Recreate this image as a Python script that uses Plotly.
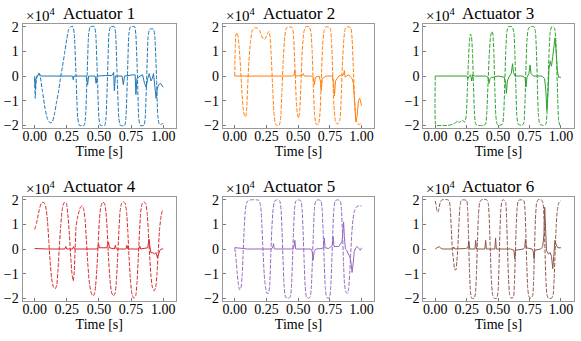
import plotly.graph_objects as go
from plotly.subplots import make_subplots

# values are in units of 1e4
a1_dash_t = [0.000, 0.004, 0.010, 0.020, 0.032, 0.044, 0.060, 0.080, 0.100, 0.120, 0.138, 0.155, 0.172, 0.188, 0.200,
             0.215, 0.232, 0.250, 0.265, 0.280, 0.298, 0.308, 0.322, 0.335, 0.348, 0.385, 0.395, 0.408,
             0.420, 0.432, 0.465, 0.475, 0.488, 0.500, 0.512, 0.545, 0.555, 0.567, 0.578, 0.590, 0.620, 0.630, 0.642,
             0.655, 0.667, 0.700, 0.710, 0.722, 0.733, 0.745, 0.777, 0.787, 0.800, 0.810, 0.822, 0.850, 0.860, 0.872,
             0.883, 0.895, 0.925, 0.935, 0.948, 0.958, 0.970, 0.990, 1.000]
a1_dash_y = [-0.1, -0.9, -0.3, 0.05, 0.12, -0.05, -0.6, -1.3, -1.75, -1.9, -1.85, -1.5, -1.0, -0.55, -0.1,
             0.35, 0.9, 1.5, 1.9, 2.0, 2.0, 1.7, 0.0, -1.7, -2.0, -2.0, -1.7, 0.0,
             1.7, 2.0, 2.0, 1.7, 0.0, -1.7, -2.0, -2.0, -1.7, 0.0, 1.7, 2.0, 2.0, 1.7, 0.0,
             -1.7, -2.0, -2.0, -1.7, 0.0, 1.7, 2.0, 2.0, 1.7, 0.0, -1.7, -2.0, -2.0, -1.7, 0.0,
             1.6, 1.9, 1.9, 1.6, 0.0, -1.6, -1.95, -1.95, -1.9]
a1_solid_t = [0.000, 0.004, 0.010, 0.020, 0.035, 0.050, 0.100, 0.150, 0.200, 0.250, 0.295, 0.300, 0.305, 0.400,
              0.412, 0.420, 0.470, 0.478, 0.486, 0.550, 0.600, 0.615, 0.620, 0.628, 0.680, 0.690, 0.700, 0.770,
              0.782, 0.788, 0.796, 0.820, 0.840, 0.855, 0.868, 0.880, 0.892, 0.905, 0.915, 0.925, 0.935, 0.945,
              0.955, 0.965, 0.980, 1.000]
a1_solid_y = [0.0, -0.5, -0.1, 0.0, 0.1, 0.0, 0.0, -0.02, 0.0, 0.0, 0.0, -0.15, 0.0, 0.0,
              -0.35, 0.0, 0.0, -0.3, 0.0, 0.02, 0.02, 0.15, -0.6, 0.0, 0.0, -0.35, 0.0, 0.05,
              0.05, -0.75, -0.1, 0.0, 0.05, -0.3, -0.45, -0.1, 0.1, -0.2, -0.1, 0.1, -0.3, -0.9,
              -0.5, -0.35, -0.3, -0.45]

a2_dash_t = [0.000, 0.004, 0.010, 0.018, 0.026, 0.036, 0.046, 0.056, 0.066, 0.076, 0.086, 0.094, 0.102, 0.112,
             0.124, 0.138, 0.155, 0.175, 0.195, 0.210, 0.225, 0.240, 0.255, 0.268, 0.278, 0.288, 0.298, 0.308,
             0.318, 0.330, 0.350, 0.362, 0.372, 0.382, 0.394, 0.408, 0.430, 0.455, 0.465, 0.475, 0.485, 0.495,
             0.503, 0.512, 0.522, 0.532, 0.545, 0.560, 0.585, 0.600, 0.610, 0.620, 0.630, 0.642, 0.660, 0.672,
             0.682, 0.692, 0.705, 0.720, 0.752, 0.762, 0.772, 0.782, 0.795, 0.812, 0.828, 0.838, 0.848, 0.860,
             0.873, 0.890, 0.915, 0.925, 0.935, 0.945, 0.955, 0.970, 0.985, 1.000]
a2_dash_y = [0.0, 1.2, 1.7, 1.75, 1.6, 1.1, 0.3, -0.6, -1.3, -1.6, -1.65, -1.3, -0.4, 0.6,
             1.4, 1.85, 1.95, 1.95, 1.85, 1.65, 1.5, 1.5, 1.7, 1.8, 1.6, 0.8, -0.4, -1.4,
             -1.9, -2.0, -2.0, -1.7, -0.6, 0.6, 1.6, 1.95, 2.0, 1.95, 1.5, 0.3, -1.0, -1.6,
             -1.7, -1.4, -0.3, 1.0, 1.8, 2.0, 2.0, 1.8, 1.0, -0.5, -1.6, -1.95, -1.95, -1.5,
             -0.2, 1.2, 1.85, 2.0, 1.95, 1.5, 0.2, -1.2, -1.85, -1.95, -1.8, -1.0, 0.4, 1.5,
             1.95, 2.0, 1.95, 1.5, 0.3, -1.0, -1.75, -1.95, -1.95, -1.9]
a2_solid_t = [0.000, 0.100, 0.200, 0.300, 0.400, 0.450, 0.468, 0.473, 0.478, 0.530, 0.540, 0.548, 0.600,
              0.620, 0.628, 0.636, 0.665, 0.675, 0.682, 0.690, 0.720, 0.770, 0.780, 0.786, 0.794, 0.820,
              0.845, 0.858, 0.864, 0.870, 0.880, 0.900, 0.915, 0.925, 0.935, 0.945, 0.955, 0.965, 0.975,
              0.985, 0.992, 1.000]
a2_solid_y = [0.0, 0.0, -0.02, -0.02, 0.0, 0.0, 0.05, 0.22, 0.0, 0.02, 0.1, 0.0, 0.0,
              -0.05, -0.35, -0.05, 0.0, -0.2, -0.6, -0.1, 0.0, 0.0, -0.3, -0.8, -0.2, 0.0,
              0.05, 0.05, 0.22, -0.05, 0.0, 0.05, -0.05, -0.1, -0.3, -1.3, -1.85, -1.6, -1.0,
              -0.9, -1.0, -1.2]

a3_dash_t = [0.000, 0.002, 0.010, 0.050, 0.100, 0.140, 0.160, 0.175, 0.188, 0.200, 0.215, 0.228, 0.238, 0.248,
             0.256, 0.264, 0.272, 0.280, 0.288, 0.296, 0.304, 0.312, 0.322, 0.340, 0.380, 0.400, 0.410, 0.420,
             0.430, 0.440, 0.450, 0.458, 0.466, 0.474, 0.482, 0.492, 0.510, 0.535, 0.545, 0.553, 0.561, 0.570,
             0.582, 0.610, 0.625, 0.633, 0.641, 0.649, 0.660, 0.690, 0.705, 0.713, 0.721, 0.729, 0.740, 0.755,
             0.785, 0.797, 0.805, 0.813, 0.821, 0.832, 0.860, 0.880, 0.890, 0.898, 0.906, 0.915, 0.928, 0.948,
             0.958, 0.966, 0.974, 0.982, 0.992, 1.000]
a3_dash_y = [0.0, -1.95, -2.0, -2.0, -2.0, -1.95, -1.9, -1.82, -1.88, -1.85, -1.78, -1.85, -1.85, -1.5,
             -0.5, 0.6, 1.4, 1.7, 1.6, 1.0, -0.3, -1.5, -1.95, -2.0, -2.0, -1.95, -1.5, -0.3,
             0.9, 1.6, 1.8, 1.7, 1.0, -0.5, -1.6, -1.95, -2.0, -1.95, -1.5, -0.3, 1.0, 1.8,
             2.0, 2.0, 1.8, 1.0, -0.4, -1.6, -1.95, -2.0, -1.9, -1.2, 0.2, 1.4, 1.9, 2.0,
             2.0, 1.8, 1.0, -0.4, -1.6, -1.95, -2.0, -1.95, -1.4, -0.2, 1.0, 1.8, 2.0, 1.95,
             1.6, 0.5, -0.8, -1.8, -2.0, -2.0]
a3_solid_t = [0.000, 0.100, 0.200, 0.250, 0.260, 0.270, 0.282, 0.290, 0.298, 0.310, 0.400, 0.420, 0.428,
              0.436, 0.448, 0.460, 0.500, 0.550, 0.560, 0.566, 0.574, 0.590, 0.605, 0.615, 0.622, 0.635,
              0.700, 0.715, 0.722, 0.730, 0.745, 0.755, 0.762, 0.780, 0.850, 0.870, 0.880, 0.888, 0.896,
              0.905, 0.915, 0.925, 0.935, 0.945, 0.953, 0.962, 0.972, 0.982, 1.000]
a3_solid_y = [0.0, 0.0, 0.0, 0.0, -0.1, 0.0, 0.05, -0.2, 0.05, 0.0, 0.0, -0.05, -0.3,
              -0.1, -0.05, -0.05, 0.0, -0.05, -0.3, -0.7, -0.2, 0.0, 0.1, 0.5, 0.15, 0.0,
              0.0, -0.1, -0.45, -0.05, 0.1, 0.45, 0.1, 0.0, 0.0, -0.1, -0.6, -1.4, -0.8,
              0.3, 0.6, 0.4, 0.8, 1.3, 1.55, 1.0, 0.2, -0.05, -0.05]

a4_dash_t = [0.000, 0.006, 0.014, 0.024, 0.036, 0.050, 0.064, 0.078, 0.090, 0.100, 0.110, 0.120, 0.132, 0.146,
             0.160, 0.172, 0.182, 0.192, 0.202, 0.214, 0.228, 0.245, 0.258, 0.270, 0.280, 0.290, 0.300, 0.308,
             0.315, 0.322, 0.332, 0.344, 0.356, 0.370, 0.382, 0.392, 0.402, 0.412, 0.424, 0.438, 0.452, 0.464,
             0.474, 0.484, 0.494, 0.504, 0.516, 0.530, 0.544, 0.555, 0.565, 0.575, 0.587, 0.600, 0.614, 0.626,
             0.636, 0.645, 0.654, 0.664, 0.676, 0.690, 0.704, 0.715, 0.725, 0.735, 0.746, 0.758, 0.772, 0.786,
             0.796, 0.806, 0.815, 0.825, 0.837, 0.850, 0.864, 0.875, 0.885, 0.895, 0.905, 0.916, 0.930, 0.942,
             0.952, 0.962, 0.972, 0.984, 0.994, 1.000]
a4_dash_y = [0.8, 0.9, 1.05, 1.3, 1.6, 1.85, 1.9, 1.85, 1.6, 1.1, 0.3, -0.5, -1.2, -1.55,
             -1.62, -1.45, -0.8, 0.1, 0.9, 1.6, 1.88, 1.88, 1.4, 0.6, -0.3, -1.0, -1.3, -0.9,
             0.0, 0.9, 1.25, 1.5, 1.7, 1.75, 1.6, 1.2, 0.4, -0.5, -1.3, -1.75, -1.9, -1.85,
             -1.5, -0.8, 0.2, 1.2, 1.75, 1.9, 1.85, 1.5, 0.7, -0.4, -1.3, -1.8, -1.9, -1.8,
             -1.3, -0.4, 0.6, 1.5, 1.85, 1.92, 1.85, 1.5, 0.7, -0.4, -1.3, -1.85, -2.0, -1.9,
             -1.4, -0.4, 0.6, 1.5, 1.85, 1.92, 1.85, 1.5, 0.7, -0.3, -1.1, -1.55, -1.7, -1.55,
             -1.0, -0.1, 0.8, 1.35, 1.55, 1.6]
a4_solid_t = [0.000, 0.050, 0.100, 0.150, 0.200, 0.235, 0.242, 0.250, 0.295, 0.302, 0.310, 0.400, 0.490,
              0.497, 0.505, 0.560, 0.568, 0.575, 0.582, 0.620, 0.628, 0.635, 0.710, 0.718, 0.725, 0.810,
              0.818, 0.825, 0.880, 0.890, 0.897, 0.905, 0.920, 0.932, 0.945, 0.955, 0.965, 0.975, 0.985, 1.000]
a4_solid_y = [0.02, 0.0, 0.0, 0.0, 0.0, 0.0, 0.1, 0.0, 0.0, 0.1, 0.0, 0.0, 0.0,
              0.2, 0.05, 0.05, 0.15, 0.28, 0.05, 0.0, 0.15, 0.0, 0.0, 0.15, 0.0, 0.0,
              0.12, 0.0, 0.05, 0.4, 0.1, -0.15, -0.15, -0.2, -0.15, -0.35, -0.2, -0.05, 0.0, 0.0]

a5_dash_t = [0.000, 0.008, 0.018, 0.028, 0.038, 0.048, 0.058, 0.066, 0.074, 0.082, 0.092, 0.105, 0.130, 0.170,
             0.192, 0.204, 0.212, 0.222, 0.232, 0.242, 0.254, 0.266, 0.276, 0.284, 0.292, 0.302, 0.314, 0.335,
             0.355, 0.365, 0.373, 0.381, 0.389, 0.400, 0.420, 0.438, 0.447, 0.455, 0.463, 0.471, 0.481, 0.500,
             0.522, 0.531, 0.539, 0.547, 0.555, 0.565, 0.580, 0.595, 0.604, 0.612, 0.620, 0.628, 0.638, 0.660,
             0.680, 0.689, 0.697, 0.705, 0.713, 0.723, 0.735, 0.748, 0.757, 0.765, 0.773, 0.781, 0.791, 0.810,
             0.832, 0.841, 0.849, 0.857, 0.865, 0.876, 0.888, 0.898, 0.906, 0.914, 0.922, 0.932, 0.944, 0.958,
             0.975, 0.990, 1.000]
a5_dash_y = [0.05, -0.3, -0.9, -1.4, -1.65, -1.6, -1.1, -0.2, 0.8, 1.5, 1.85, 1.97, 2.0, 2.0,
             1.97, 1.75, 1.2, 0.0, -1.0, -1.55, -1.8, -1.8, -1.4, -0.3, 0.8, 1.6, 1.95, 2.0,
             1.95, 1.6, 0.7, -0.5, -1.5, -1.95, -2.0, -1.95, -1.5, -0.5, 0.7, 1.6, 1.95, 2.0,
             1.95, 1.6, 0.7, -0.5, -1.5, -1.95, -2.0, -1.95, -1.5, -0.5, 0.7, 1.6, 1.95, 2.0,
             1.95, 1.6, 0.7, -0.5, -1.5, -1.95, -2.0, -1.95, -1.5, -0.5, 0.7, 1.6, 1.95, 2.0,
             1.95, 1.6, 0.7, -0.5, -1.4, -1.75, -1.8, -1.6, -1.0, -0.2, 0.6, 1.2, 1.55, 1.7,
             1.75, 1.75, 1.75]
a5_solid_t = [0.000, 0.010, 0.050, 0.100, 0.200, 0.290, 0.300, 0.306, 0.312, 0.400, 0.460, 0.468, 0.474,
              0.480, 0.550, 0.600, 0.610, 0.618, 0.626, 0.640, 0.690, 0.700, 0.706, 0.712, 0.740, 0.760,
              0.770, 0.776, 0.782, 0.820, 0.835, 0.845, 0.852, 0.858, 0.864, 0.872, 0.882, 0.892, 0.905,
              0.915, 0.925, 0.933, 0.942, 0.955, 0.965, 0.978, 0.990, 1.000]
a5_solid_y = [0.08, 0.05, 0.03, 0.0, 0.0, 0.0, 0.08, 0.22, 0.0, 0.0, 0.0, 0.12, 0.35,
              0.0, 0.0, 0.0, -0.1, -0.45, -0.1, 0.0, 0.02, 0.1, 0.45, 0.05, 0.02, 0.1,
              0.15, 0.5, 0.1, 0.1, 0.2, 0.3, 0.65, 1.1, 0.5, 0.0, -0.05, -0.15, -0.3,
              -0.5, -0.95, -0.6, -0.1, 0.05, 0.1, 0.02, -0.05, 0.05]

a6_dash_t = [0.000, 0.006, 0.014, 0.022, 0.030, 0.040, 0.055, 0.100, 0.112, 0.120, 0.128, 0.136, 0.146, 0.156,
             0.164, 0.172, 0.180, 0.188, 0.196, 0.206, 0.220, 0.250, 0.258, 0.265, 0.272, 0.280, 0.290, 0.310,
             0.320, 0.328, 0.336, 0.344, 0.354, 0.368, 0.410, 0.422, 0.430, 0.438, 0.446, 0.456, 0.468, 0.490,
             0.500, 0.507, 0.514, 0.522, 0.532, 0.545, 0.560, 0.568, 0.575, 0.583, 0.592, 0.605, 0.622, 0.630,
             0.637, 0.644, 0.652, 0.662, 0.680, 0.705, 0.714, 0.721, 0.728, 0.736, 0.746, 0.760, 0.775, 0.783,
             0.790, 0.797, 0.806, 0.818, 0.845, 0.858, 0.866, 0.873, 0.880, 0.889, 0.900, 0.925, 0.938, 0.946,
             0.954, 0.962, 0.972, 0.985, 1.000]
a6_dash_y = [1.95, 1.8, 1.55, 1.5, 1.65, 1.9, 2.0, 2.0, 1.95, 1.6, 0.8, 0.0, -0.5, -0.85,
             -0.85, -0.5, 0.1, 1.0, 1.7, 1.97, 2.0, 1.97, 1.6, 0.5, -0.8, -1.7, -2.0, -2.0,
             -1.8, -1.0, 0.3, 1.4, 1.9, 2.0, 2.0, 1.85, 1.2, 0.0, -1.2, -1.85, -2.0, -2.0,
             -1.7, -0.7, 0.6, 1.6, 1.97, 2.0, 1.9, 1.2, 0.0, -1.2, -1.85, -2.0, -1.95, -1.4,
             -0.3, 0.9, 1.7, 1.97, 2.0, 1.97, 1.6, 0.6, -0.6, -1.6, -1.95, -2.0, -1.9, -1.2,
             0.0, 1.2, 1.85, 2.0, 2.0, 1.85, 1.2, 0.0, -1.2, -1.85, -2.0, -2.0, -1.85, -1.2,
             -0.1, 0.9, 1.6, 1.9, 1.97]
a6_solid_t = [0.000, 0.020, 0.030, 0.040, 0.060, 0.140, 0.148, 0.156, 0.200, 0.240, 0.260, 0.268, 0.275,
              0.316, 0.322, 0.328, 0.395, 0.401, 0.407, 0.474, 0.480, 0.486, 0.550, 0.600, 0.626, 0.632,
              0.638, 0.700, 0.712, 0.718, 0.724, 0.770, 0.780, 0.786, 0.792, 0.840, 0.855, 0.865, 0.871,
              0.877, 0.885, 0.900, 0.915, 0.925, 0.935, 0.943, 0.952, 0.960, 0.975, 1.000]
a6_solid_y = [0.0, 0.05, 0.1, 0.05, 0.0, 0.0, 0.08, 0.0, 0.0, 0.02, 0.05, 0.3, 0.0,
              0.0, 0.35, 0.0, 0.0, 0.35, 0.0, 0.0, 0.45, 0.0, 0.0, 0.0, -0.05, -0.4,
              -0.05, 0.0, 0.05, 0.4, 0.05, 0.0, -0.1, -0.4, -0.05, 0.0, 0.1, 0.6, 1.7,
              0.6, -0.05, -0.2, -0.15, -0.3, -0.8, -0.3, 0.35, 0.2, 0.05, 0.05]

colors = ["#1f77b4", "#ff7f0e", "#2ca02c", "#d62728", "#9467bd", "#8c564b"]
series = [
    (a1_dash_t, a1_dash_y, a1_solid_t, a1_solid_y),
    (a2_dash_t, a2_dash_y, a2_solid_t, a2_solid_y),
    (a3_dash_t, a3_dash_y, a3_solid_t, a3_solid_y),
    (a4_dash_t, a4_dash_y, a4_solid_t, a4_solid_y),
    (a5_dash_t, a5_dash_y, a5_solid_t, a5_solid_y),
    (a6_dash_t, a6_dash_y, a6_solid_t, a6_solid_y),
]

W, H = 581, 341
x_dom = [(22.5, 176.0), (222.7, 374.3), (423.3, 573.5)]
y_dom = [(20.5, 127.5), (198.3, 305.0)]

font = "Liberation Serif, Times New Roman, serif"

fig = make_subplots(rows=2, cols=3)

for i, (dt, dy, st, sy) in enumerate(series):
    r, c = i // 3 + 1, i % 3 + 1
    fig.add_trace(
        go.Scatter(x=dt, y=dy, mode="lines", showlegend=False, hoverinfo="skip",
                   line=dict(color=colors[i], width=1.0, dash="4px,1.6px", shape="spline", smoothing=0.5)),
        row=r, col=c,
    )
    fig.add_trace(
        go.Scatter(x=st, y=sy, mode="lines", showlegend=False, hoverinfo="skip",
                   line=dict(color=colors[i], width=1.0)),
        row=r, col=c,
    )

annotations = []
for i in range(6):
    r, c = i // 3, i % 3
    x0, x1 = x_dom[c]
    y0, y1 = y_dom[r]
    axn = "" if i == 0 else str(i + 1)
    fig.layout["xaxis" + axn].domain = [x0 / W, x1 / W]
    fig.layout["yaxis" + axn].domain = [1 - y1 / H, 1 - y0 / H]
    annotations.append(dict(
        text=f"Actuator {i + 1}", xref="paper", yref="paper",
        x=(x0 + x1) / 2 / W, y=1 - y0 / H, xanchor="center", yanchor="bottom",
        showarrow=False, font=dict(size=17, color="black", family=font), yshift=-1,
    ))
    annotations.append(dict(
        text="×10<sup>4</sup>", xref="paper", yref="paper",
        x=(x0 + 1) / W, y=1 - y0 / H, xanchor="left", yanchor="bottom",
        showarrow=False, font=dict(size=15, color="black", family=font), yshift=-2,
    ))

fig.update_xaxes(
    range=[-0.095, 1.1], tickvals=[0, 0.25, 0.5, 0.75, 1.0], tickformat=".2f",
    ticks="inside", ticklen=3, tickcolor="#777", showline=True, mirror=True,
    linecolor="#999", linewidth=1, showgrid=False, zeroline=False,
    tickfont=dict(size=14, color="black", family=font), ticklabelstandoff=-5,
    title=dict(text="Time [s]", font=dict(size=14, color="black", family=font), standoff=0),
)
fig.update_yaxes(
    range=[-2.11, 2.11], tickvals=[-2, -1, 0, 1, 2],
    ticks="inside", ticklen=3, tickcolor="#777", showline=True, mirror=True,
    linecolor="#999", linewidth=1, showgrid=False, zeroline=False,
    tickfont=dict(size=14, color="black", family=font),
)

fig.update_layout(
    width=W, height=H, margin=dict(l=0, r=0, t=0, b=0),
    paper_bgcolor="white", plot_bgcolor="white",
    annotations=annotations, hovermode=False,
)

fig.write_html("out.html", config={"displayModeBar": False},
               post_script="document.body.style.margin='0';")
